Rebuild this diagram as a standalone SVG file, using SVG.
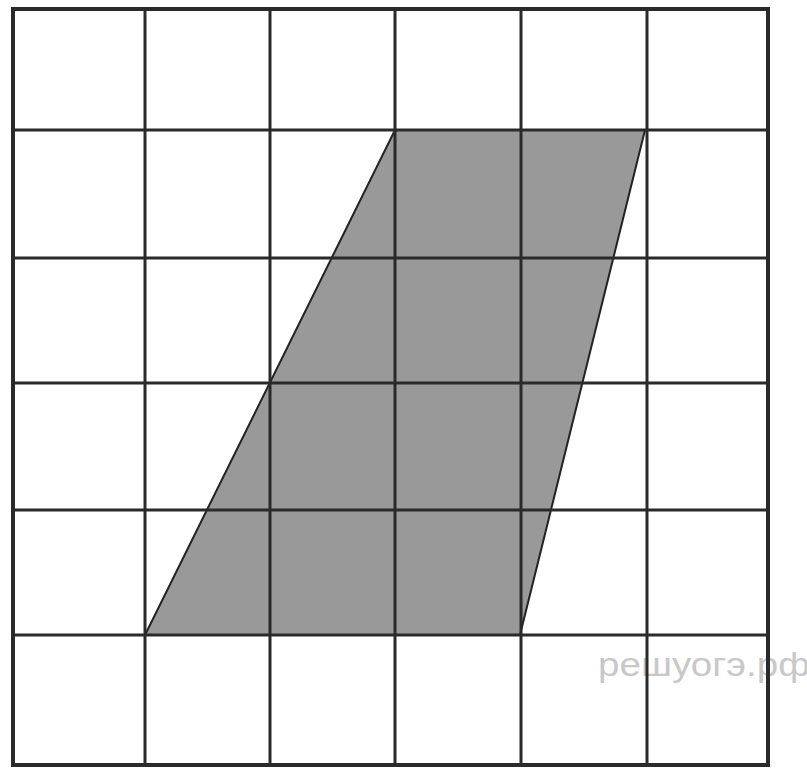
<svg xmlns="http://www.w3.org/2000/svg" width="807" height="770" viewBox="0 0 807 770">
<style>
.grid{stroke:#2a2a2a;stroke-width:3;fill:none}
.frame{stroke:#2a2a2a;stroke-width:4;fill:none}
.shape{fill:#999999;stroke:#222;stroke-width:2}
.wm{font-family:"Liberation Sans",Arial,sans-serif;font-size:33px;fill:#c8c8c8}
</style>
<rect width="807" height="770" fill="#ffffff"/>
<text class="wm" x="598" y="676" textLength="212" lengthAdjust="spacingAndGlyphs">решуогэ.рф</text>
<g id="parallelogram">
<polygon class="shape" points="395,130 645,130 520,635 145,635"/>
</g>
<g id="grid">
<line class="grid" x1="145" y1="9" x2="145" y2="765"/>
<line class="grid" x1="270" y1="9" x2="270" y2="765"/>
<line class="grid" x1="395" y1="9" x2="395" y2="765"/>
<line class="grid" x1="521" y1="9" x2="521" y2="765"/>
<line class="grid" x1="647" y1="9" x2="647" y2="765"/>
<line class="grid" x1="13" y1="130" x2="768" y2="130"/>
<line class="grid" x1="13" y1="258" x2="768" y2="258"/>
<line class="grid" x1="13" y1="383" x2="768" y2="383"/>
<line class="grid" x1="13" y1="510" x2="768" y2="510"/>
<line class="grid" x1="13" y1="635" x2="768" y2="635"/>
<rect class="frame" x="13" y="9" width="755" height="756"/>
</g>
</svg>
